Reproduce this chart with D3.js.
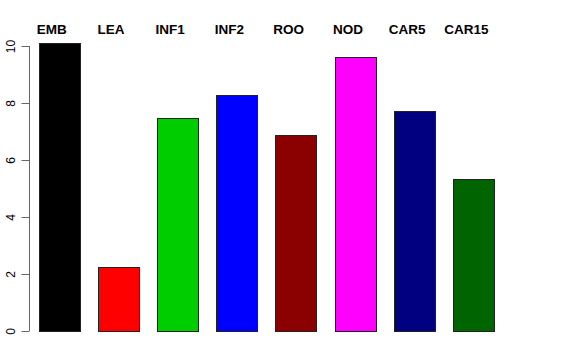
<!DOCTYPE html>
<script src="https://d3js.org/d3.v7.min.js"></script>
<style>
body { margin: 0; background: white; }
text { font-family: "Liberation Sans", Arial, sans-serif; }
</style>
<html><body>
<svg class="chart"></svg>
<script>
var width = 576;
var height = 360;

var categories = ["EMB","LEA","INF1","INF2","ROO","NOD","CAR5","CAR15"];
var values = [10.12, 2.26, 7.47, 8.28, 6.88, 9.62, 7.73, 5.32];
var colors = ["#000000","#ff0000","#00cd00","#0000ff","#8b0000","#ff00ff","#000080","#006400"];
var yTicks = [0,2,4,6,8,10];

var x = d3.scaleBand()
    .domain(categories)
    .range([38.5, 494.7])
    .paddingInner(0.3)
    .paddingOuter(0);

var y = d3.scaleLinear()
    .domain([0,10])
    .range([331, 46]);

var chart = d3.select(".chart")
    .attr("width", width)
    .attr("height", height);

chart.selectAll("rect.bar")
    .data(values)
    .enter().append("rect")
    .attr("class", "bar")
    .attr("x", function(d,i) { return Math.round(x(categories[i])) + 0.5; })
    .attr("y", function(d) { return Math.round(y(d)) + 0.5; })
    .attr("width", Math.round(x.bandwidth()))
    .attr("height", function(d) { return Math.round(y(0)) - Math.round(y(d)); })
    .attr("fill", function(d,i) { return colors[i]; })
    .attr("stroke", "#222")
    .attr("stroke-width", 1);

// category labels above the plot
chart.selectAll("text.cat")
    .data(categories)
    .enter().append("text")
    .attr("class", "cat")
    .attr("x", function(d) { return x(d) + x.bandwidth()/2 - 7.5; })
    .attr("y", 34)
    .attr("text-anchor", "middle")
    .style("font-weight", "bold")
    .style("font-size", "13.5px")
    .text(function(d) { return d; });

// y axis
var axis = chart.append("g")
    .attr("transform", "translate(29.5,0)")
    .call(d3.axisLeft(y).tickValues(yTicks).tickSize(8).tickPadding(4).tickFormat(d3.format("d")));
axis.select(".domain").attr("stroke", "#666").attr("d", "M0," + y(0) + "V" + y(10));
axis.selectAll(".tick line").attr("stroke", "#666");
axis.selectAll(".tick text")
    .attr("transform", "rotate(-90)")
    .attr("x", 0)
    .attr("y", -15)
    .attr("dy", "0")
    .attr("text-anchor", "middle")
    .style("font-family", "Liberation Sans, Arial, sans-serif")
    .style("font-size", "12px")
    .attr("fill", "#000");
</script>
</body></html>
